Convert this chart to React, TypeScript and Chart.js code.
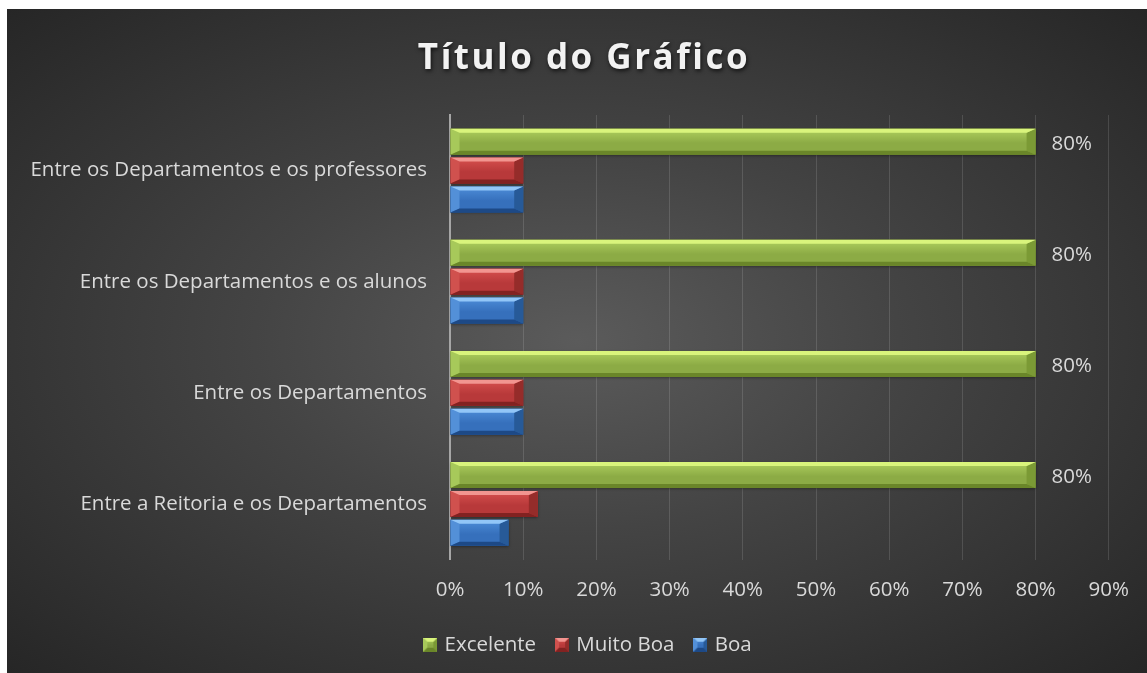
import React, { useEffect, useRef } from "react";
import { Chart, registerables } from "chart.js";
Chart.register(...registerables);

const FONT = "'Open Sans', 'Noto Sans', sans-serif";
const TEXT = "#d9d9d9";
const FS = 20.5;

const categories = [
  "Entre os Departamentos e os professores",
  "Entre os Departamentos e os alunos",
  "Entre os Departamentos",
  "Entre a Reitoria e os Departamentos",
];
const seriesNames = ["Excelente", "Muito Boa", "Boa"];
const excelente = [80, 80, 80, 80];
const muitoBoa = [10, 10, 10, 12];
const boa = [10, 10, 10, 8];
const axisMin = 0;
const axisMax = 90;
const axisStep = 10;
const chartTitle = "Título do Gráfico";

type Pal = { face: string; hi: string; top: string; bottom: string; left: string; right: string };
const palettes: Pal[] = [
  { face: "#8cab45", hi: "#afd05f", top: "#d9f47c", bottom: "#6a8629", left: "#a7c95a", right: "#7b9a35" },
  { face: "#b8393a", hi: "#d8514f", top: "#f29590", bottom: "#822221", left: "#d0514e", right: "#952c2a" },
  { face: "#3670bc", hi: "#4e8ed9", top: "#92c6f7", bottom: "#1d4986", left: "#5390d8", right: "#275a98" },
];

function drawBevel(ctx: CanvasRenderingContext2D, L: number, T: number, W: number, H: number, p: Pal, bx: number, by: number) {
  const R = L + W, B = T + H;
  const ex = Math.min(bx, W / 2);
  const ey = Math.min(by, H / 2);
  ctx.save();
  const g = ctx.createLinearGradient(0, T, 0, B);
  g.addColorStop(0, p.hi);
  g.addColorStop(0.55, p.face);
  g.addColorStop(1, p.face);
  ctx.fillStyle = g;
  ctx.fillRect(L, T, W, H);
  const poly = (pts: number[][], c: string) => {
    ctx.beginPath();
    ctx.moveTo(pts[0][0], pts[0][1]);
    for (let i = 1; i < pts.length; i++) ctx.lineTo(pts[i][0], pts[i][1]);
    ctx.closePath();
    ctx.fillStyle = c;
    ctx.fill();
  };
  poly([[L, T], [L + ex, T + ey], [L + ex, B - ey], [L, B]], p.left);
  poly([[R, T], [R - ex, T + ey], [R - ex, B - ey], [R, B]], p.right);
  poly([[L, T], [R, T], [R - ex, T + ey], [L + ex, T + ey]], p.top);
  poly([[L, B], [R, B], [R - ex, B - ey], [L + ex, B - ey]], p.bottom);
  ctx.restore();
}

function legendIcon(p: Pal): HTMLCanvasElement {
  const c = document.createElement("canvas");
  c.width = 14;
  c.height = 14;
  const ctx = c.getContext("2d")!;
  drawBevel(ctx, 0, 0, 14, 14, p, 4, 4);
  return c;
}

const bevelPlugin = {
  id: "bevel",
  afterLayout(chart: any) {
    if (chart.legend) {
      chart.legend.left += 31;
      chart.legend.right += 31;
    }
  },
  afterDatasetsDraw(chart: any) {
    const ctx = chart.ctx;
    chart.data.datasets.forEach((_ds: any, i: number) => {
      const meta = chart.getDatasetMeta(i);
      if (meta.hidden) return;
      meta.data.forEach((el: any) => {
        const { x, y, base, height } = el.getProps(["x", "y", "base", "height"], true);
        const L = Math.min(x, base), R = Math.max(x, base);
        ctx.save();
        ctx.shadowColor = "rgba(0,0,0,0.45)";
        ctx.shadowBlur = 3;
        ctx.shadowOffsetY = 1;
        ctx.fillStyle = "#000";
        ctx.fillRect(L, y - height / 2, R - L, height);
        ctx.restore();
        drawBevel(ctx, L, y - height / 2, R - L, height, palettes[i], 9, 4);
      });
    });
    const meta0 = chart.getDatasetMeta(0);
    ctx.save();
    ctx.font = `${FS}px ${FONT}`;
    ctx.fillStyle = TEXT;
    ctx.textAlign = "left";
    ctx.textBaseline = "middle";
    meta0.data.forEach((el: any, j: number) => {
      const v = chart.data.datasets[0].data[j];
      ctx.fillText(`${v}%`, el.x + 16, el.y + 2);
    });
    ctx.restore();
  },
};

const titlePlugin = {
  id: "customTitle",
  afterDraw(chart: any) {
    const ctx = chart.ctx;
    ctx.save();
    ctx.font = `bold 35px ${FONT}`;
    (ctx as any).letterSpacing = "2.5px";
    ctx.fillStyle = "#f2f2f2";
    ctx.shadowColor = "rgba(0,0,0,0.7)";
    ctx.shadowBlur = 4;
    ctx.shadowOffsetX = 1;
    ctx.shadowOffsetY = 2;
    ctx.textAlign = "center";
    ctx.textBaseline = "middle";
    ctx.fillText(chartTitle, 577, 50);
    ctx.restore();
  },
};

export default function App() {
  const ref = useRef<HTMLCanvasElement>(null);
  useEffect(() => {
    document.body.style.margin = "0";
    document.body.style.overflow = "hidden";
    const icons = palettes.map(legendIcon);
    const chart = new Chart(ref.current!, {
      type: "bar",
      data: {
        labels: categories,
        datasets: [excelente, muitoBoa, boa].map((d, i) => ({
          label: seriesNames[i],
          data: d,
          backgroundColor: palettes[i].face,
          borderWidth: 0,
          barPercentage: 0.9,
          categoryPercentage: 0.78,
        })),
      },
      options: {
        indexAxis: "y",
        animation: false,
        responsive: false,
        layout: { padding: { top: 106, left: 0, right: 38, bottom: 8 } },
        scales: {
          x: {
            min: axisMin,
            max: axisMax,
            ticks: {
              stepSize: axisStep,
              callback: (v: any) => `${v}%`,
              color: TEXT,
              font: { size: FS, family: FONT },
              padding: 18,
            },
            grid: { color: "rgba(255,255,255,0.13)", drawTicks: false, lineWidth: 1 },
            border: { display: false },
            afterFit: (s: any) => {
              s.height = 53;
            },
          },
          y: {
            ticks: { color: TEXT, font: { size: FS, family: FONT }, padding: 23 },
            grid: { display: false, drawTicks: false },
            border: { display: true, color: "#a6a6a6", width: 2 },
            afterFit: (s: any) => {
              s.width = 443;
            },
          },
        },
        plugins: {
          title: { display: false },
          tooltip: { enabled: false },
          legend: {
            position: "bottom",
            labels: {
              usePointStyle: true,
              boxWidth: 8,
              color: TEXT,
              font: { size: FS, family: FONT },
              padding: 22,
              generateLabels: (c: any) => {
                const items = Chart.defaults.plugins.legend.labels.generateLabels(c);
                return items.map((it: any, i: number) => ({ ...it, pointStyle: icons[i] }));
              },
            },
          },
        },
      } as any,
      plugins: [bevelPlugin, titlePlugin],
    });
    return () => chart.destroy();
  }, []);
  return (
    <div
      style={{
        position: "absolute",
        left: 7,
        top: 9,
        width: 1140,
        height: 664,
        background: "radial-gradient(ellipse at 50% 50%, #5b5b5b 0%, #444 40%, #262626 100%)",
      }}
    >
      <canvas ref={ref} width={1140} height={664} style={{ display: "block" }} />
    </div>
  );
}
